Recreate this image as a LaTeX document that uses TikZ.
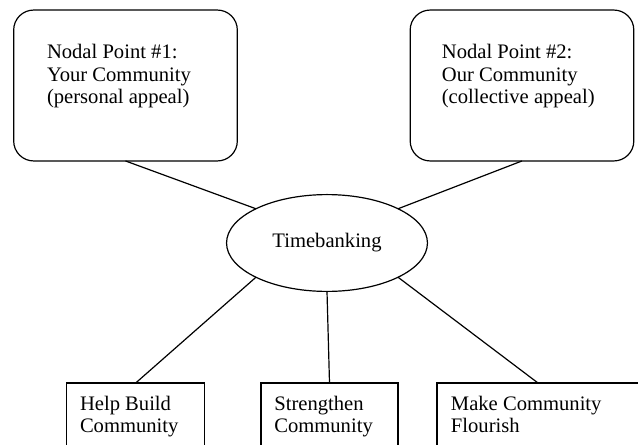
\documentclass[tikz,border=0pt]{standalone}
\usepackage{fontspec}
\setmainfont{Liberation Serif}
\usepackage{tikz}
\usetikzlibrary{positioning,shapes.geometric}
\tikzset{
  linkline/.style={line width=0.75pt},
  nodalbox/.style={draw, rounded corners=0.44cm, line width=0.75pt, minimum width=4.92cm, minimum height=3.32cm, outer sep=0pt},
  boxtext/.style={align=left, inner sep=0pt},
  hubellipse/.style={draw, ellipse, line width=0.75pt, minimum width=4.42cm, minimum height=2.13cm, outer sep=0pt},
  goalbox/.style={draw, line width=0.75pt, minimum height=2.2cm, outer sep=0pt, anchor=north west}
}

\begin{document}
\begin{tikzpicture}[every node/.style={font=\fontsize{12.9}{14}\selectfont}]
  \useasboundingbox (0,0) rectangle (14.036,-9.79);
  \clip (0,0) rectangle (14.036,-9.79);
  \node[nodalbox] (np1) at (2.761,-1.881) {};
  \node[boxtext, below right=0.75cm and 0.726cm of np1.north west] (np1txt) {Nodal Point \#1:\\Your Community\\(personal appeal)};
  \node[nodalbox] (np2) at (11.484,-1.881) {};
  \node[boxtext, below right=0.75cm and 0.69cm of np2.north west] (np2txt) {Nodal Point \#2:\\Our Community\\(collective appeal)};
  \node[hubellipse] (hub) at (7.194,-5.346) {Timebanking};
  \node[goalbox, minimum width=3.036cm] (help) at (1.467,-8.426) {};
  \node[boxtext, below right=0.275cm and 0.286cm of help.north west] (helptxt) {Help Build\\Community};
  \node[goalbox, minimum width=3.014cm] (strong) at (5.742,-8.426) {};
  \node[boxtext, below right=0.275cm and 0.286cm of strong.north west] (strongtxt) {Strengthen\\Community};
  \node[goalbox, minimum width=4.444cm] (flourish) at (9.614,-8.426) {};
  \node[boxtext, below right=0.275cm and 0.3cm of flourish.north west] (flourishtxt) {Make Community\\Flourish};
  \draw[linkline] (np1.south) -- (hub.north west);
  \draw[linkline] (np2.south) -- (hub.north east);
  \draw[linkline] (hub.south west) -- (help.north);
  \draw[linkline] (hub.south) -- (strong.north);
  \draw[linkline] (hub.south east) -- (flourish.north);
\end{tikzpicture}
\end{document}
